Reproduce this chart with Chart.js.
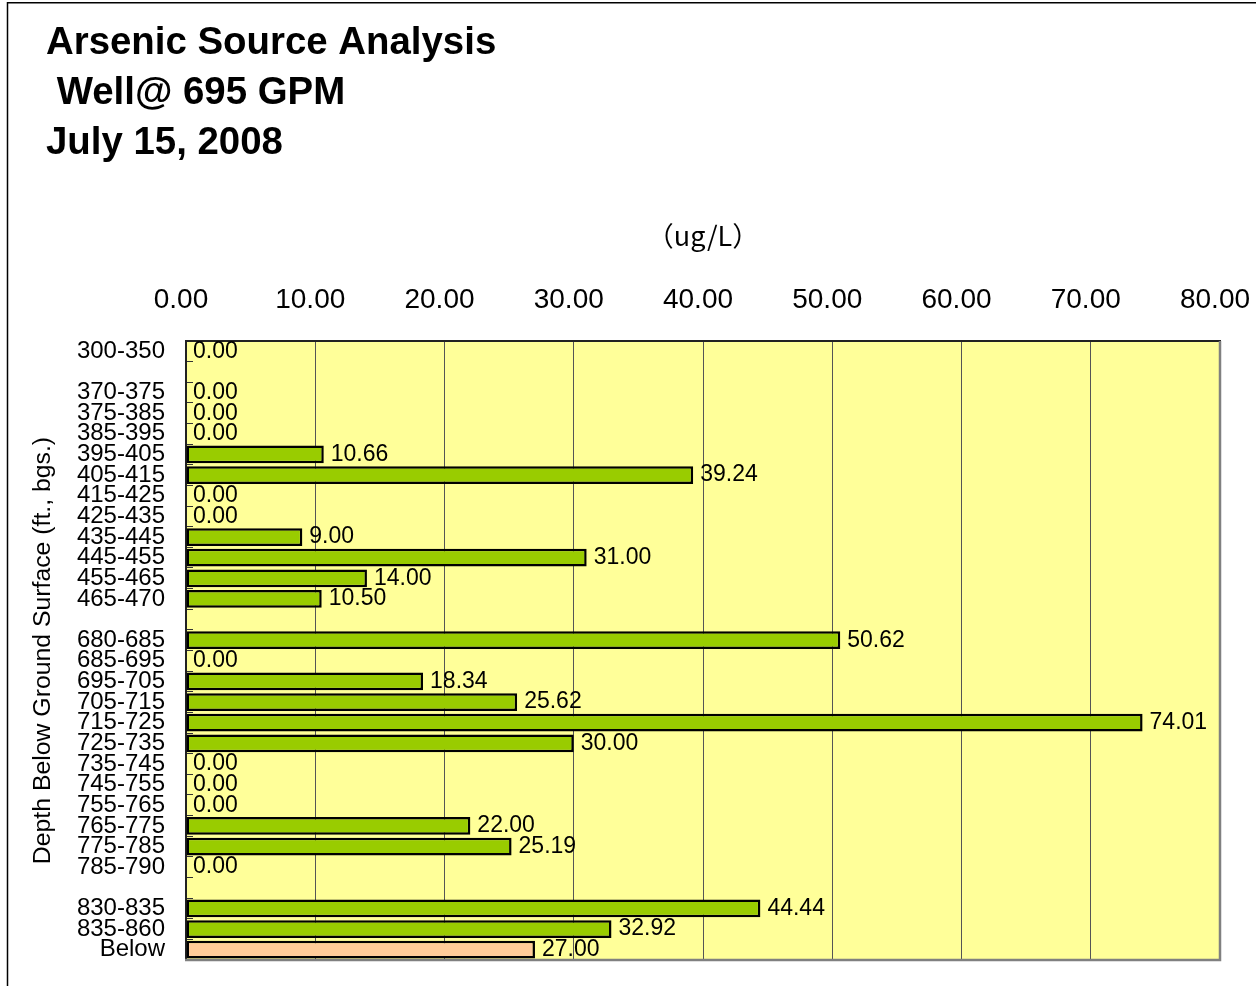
<!DOCTYPE html>
<html>
<head>
<meta charset="utf-8">
<script src="https://cdn.jsdelivr.net/npm/chart.js@4.4.1/dist/chart.umd.min.js"></script>
<style>
html,body{margin:0;padding:0;background:#ffffff;}
canvas{display:block;}
</style>
</head>
<body>
<canvas id="c" width="1256" height="986" style="width:1256px;height:986px"></canvas>
<script>
// ---- data ----
const titleLines = ['Arsenic Source Analysis', ' Well@ 695 GPM', 'July 15, 2008'];
const depthLabels = [
  '300-350', '', '370-375', '375-385', '385-395', '395-405', '405-415', '415-425',
  '425-435', '435-445', '445-455', '455-465', '465-470', '', '680-685', '685-695',
  '695-705', '705-715', '715-725', '725-735', '735-745', '745-755', '755-765',
  '765-775', '775-785', '785-790', '', '830-835', '835-860', 'Below'
];
const arsenicValues = [
  0, null, 0, 0, 0, 10.66, 39.24, 0,
  0, 9.00, 31.00, 14.00, 10.50, null, 50.62, 0,
  18.34, 25.62, 74.01, 30.00, 0, 0, 0,
  22.00, 25.19, 0, null, 44.44, 32.92, 27.00
];
const valueTicks = [0, 10, 20, 30, 40, 50, 60, 70, 80];
const xAxisTitle = '（ug/L）';
const yAxisTitle = 'Depth Below Ground Surface (ft., bgs.)';
const highlightLabel = 'Below';

// ---- style / layout constants ----
const FONT = "'Liberation Sans', Arial, Helvetica, sans-serif";
const GREEN = '#99CC00';
const PEACH = '#FFCC99';
const PLOT_BG = '#FFFF99';
const AREA_LEFT = 186, AREA_TOP = 341;
const TITLE_SIZE = 38.4, TITLE_LINE = 50, TITLE_PAD_TOP = 18.5, TITLE_PAD_BOTTOM = 20;
const TITLE_HEIGHT = titleLines.length * TITLE_LINE + TITLE_PAD_TOP + TITLE_PAD_BOTTOM;

const barColors = depthLabels.map(l => l === highlightLabel ? PEACH : GREEN);

function noScalePadding(s) {
  s.paddingLeft = 0; s.paddingRight = 0; s.paddingTop = 0; s.paddingBottom = 0;
}

const plotPlugin = {
  id: 'plotDecor',
  afterLayout(chart) {
    if (chart.titleBlock) chart.titleBlock.left = 46;
  },
  beforeDraw(chart) {
    const {ctx, chartArea: a} = chart;
    ctx.save();
    ctx.fillStyle = PLOT_BG;
    ctx.fillRect(a.left, a.top, a.right - a.left, a.bottom - a.top);
    ctx.restore();
  },
  afterDatasetsDraw(chart) {
    const {ctx} = chart;
    const meta = chart.getDatasetMeta(0);
    ctx.save();
    ctx.font = '23px ' + FONT;
    ctx.fillStyle = '#000';
    ctx.textAlign = 'left';
    ctx.textBaseline = 'middle';
    meta.data.forEach((el, i) => {
      const v = arsenicValues[i];
      if (v === null || v === undefined) return;
      ctx.fillText(v.toFixed(2), el.x + 7, el.y);
    });
    ctx.restore();
  },
  afterDraw(chart) {
    const {ctx, chartArea: a} = chart;
    ctx.save();
    ctx.strokeStyle = '#808080';
    ctx.lineWidth = 2.5;
    ctx.beginPath();
    ctx.moveTo(a.right, a.top);
    ctx.lineTo(a.right, a.bottom);
    ctx.lineTo(a.left - 1, a.bottom);
    ctx.stroke();
    ctx.strokeStyle = '#000';
    ctx.lineWidth = 1.5;
    ctx.beginPath();
    ctx.moveTo(7.5, chart.height);
    ctx.lineTo(7.5, 2.75);
    ctx.lineTo(chart.width, 2.75);
    ctx.stroke();
    ctx.restore();
  }
};

new Chart(document.getElementById('c'), {
  type: 'bar',
  data: {
    labels: depthLabels,
    datasets: [{
      data: arsenicValues,
      backgroundColor: barColors,
      borderColor: '#000000',
      borderWidth: 2.5,
      borderSkipped: false,
      barPercentage: 0.86,
      categoryPercentage: 1.0
    }]
  },
  options: {
    indexAxis: 'y',
    responsive: false,
    animation: false,
    devicePixelRatio: 1,
    layout: { autoPadding: false, padding: { left: 0, top: 0, right: 36, bottom: 26 } },
    plugins: {
      legend: { display: false },
      tooltip: { enabled: false },
      title: {
        display: true,
        text: titleLines,
        align: 'start',
        color: '#000',
        font: { family: FONT, size: TITLE_SIZE, weight: 'bold', lineHeight: TITLE_LINE + 'px' },
        padding: { top: TITLE_PAD_TOP, bottom: TITLE_PAD_BOTTOM }
      }
    },
    scales: {
      x: {
        position: 'top',
        min: 0,
        max: 80,
        afterBuildTicks: s => { s.ticks = valueTicks.map(v => ({ value: v })); },
        afterFit: s => { s.height = AREA_TOP - TITLE_HEIGHT; noScalePadding(s); },
        grid: { color: '#555555', lineWidth: 1, drawTicks: false },
        border: { display: true, color: '#222222', width: 2 },
        ticks: {
          padding: 24,
          labelOffset: -5,
          color: '#000',
          autoSkip: false,
          maxRotation: 0,
          font: { family: FONT, size: 28 },
          callback: v => Number(v).toFixed(2)
        },
        title: {
          display: true,
          text: xAxisTitle,
          color: '#000',
          font: { family: "'Noto Sans CJK JP', 'Noto Sans', sans-serif", size: 27 },
          padding: { top: 31, bottom: 0 }
        }
      },
      y: {
        afterFit: s => { s.width = AREA_LEFT; noScalePadding(s); },
        grid: { drawOnChartArea: false, drawTicks: true, tickLength: -7, color: '#333333', lineWidth: 1, offset: true },
        border: { display: true, color: '#222222', width: 2 },
        ticks: {
          padding: 28,
          autoSkip: false,
          color: '#000',
          font: { family: FONT, size: 24 }
        },
        title: {
          display: true,
          text: yAxisTitle,
          color: '#000',
          font: { family: FONT, size: 24.8 },
          padding: { top: 28, bottom: 0 }
        }
      }
    }
  },
  plugins: [plotPlugin]
});
</script>
</body>
</html>
